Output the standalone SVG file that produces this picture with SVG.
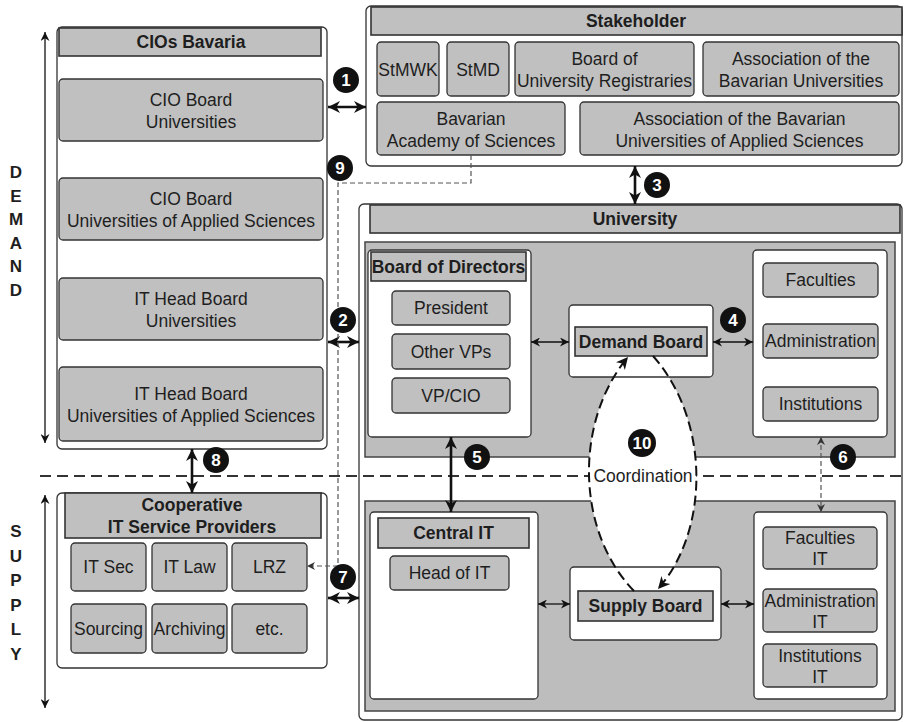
<svg xmlns="http://www.w3.org/2000/svg" width="905" height="722" viewBox="0 0 905 722">
<style>
text{font-family:"Liberation Sans",Arial,sans-serif;font-size:17.5px;fill:#1e1e1e;text-anchor:middle}
.b{font-weight:bold}
.outer{fill:#fff;stroke:#333;stroke-width:1.3}
.box{fill:#c0c0c0;stroke:#333;stroke-width:1.3}
.hdr{fill:#c0c0c0;stroke:#333;stroke-width:1.6}
.area{fill:#bdbdbd;stroke:#444;stroke-width:1.5}
.wbox{fill:#fff;stroke:#333;stroke-width:1.3}
.num circle{fill:#111}
.num text{fill:#fff;font-weight:bold;font-size:17px}
.side{font-weight:bold;font-size:17px}
.thin{stroke:#111;stroke-width:1.3;fill:none}
.bold{stroke:#111;stroke-width:2.6;fill:none}
.dash{stroke:#555;stroke-width:1.2;fill:none;stroke-dasharray:5 3}
.curve{stroke:#111;stroke-width:2;fill:none;stroke-dasharray:10 5}
</style>
<defs>
<marker id="at" viewBox="0 0 10 10" refX="10" refY="5" markerWidth="10" markerHeight="9" markerUnits="userSpaceOnUse" orient="auto-start-reverse"><path d="M0,0 L10,5 L0,10 L3,5 z" fill="#111"/></marker>
<marker id="ab" viewBox="0 0 10 10" refX="10" refY="5" markerWidth="13" markerHeight="12" markerUnits="userSpaceOnUse" orient="auto-start-reverse"><path d="M0,0 L10,5 L0,10 L3,5 z" fill="#111"/></marker>
<marker id="ad" viewBox="0 0 10 10" refX="10" refY="5" markerWidth="9" markerHeight="8" markerUnits="userSpaceOnUse" orient="auto-start-reverse"><path d="M0,0 L10,5 L0,10 L3,5 z" fill="#333"/></marker>
<marker id="ac" viewBox="0 0 10 10" refX="10" refY="5" markerWidth="13" markerHeight="12" markerUnits="userSpaceOnUse" orient="auto"><path d="M0,0 L10,5 L0,10 L3,5 z" fill="#111"/></marker>
</defs>

<g id="side-labels">
<line class="thin" x1="45" y1="32" x2="45" y2="443" marker-start="url(#at)" marker-end="url(#at)"/>
<line class="thin" x1="45" y1="495" x2="45" y2="708" marker-start="url(#at)" marker-end="url(#at)"/>
<text class="side" x="16" y="178">D</text>
<text class="side" x="16" y="201.5">E</text>
<text class="side" x="16" y="225">M</text>
<text class="side" x="16" y="249">A</text>
<text class="side" x="16" y="272">N</text>
<text class="side" x="16" y="296">D</text>
<text class="side" x="16" y="537">S</text>
<text class="side" x="16" y="561.5">U</text>
<text class="side" x="16" y="586">P</text>
<text class="side" x="16" y="610.5">P</text>
<text class="side" x="16" y="635">L</text>
<text class="side" x="16" y="660">Y</text>
</g>

<g id="cios-bavaria">
<rect class="outer" x="57" y="27" width="270" height="422" rx="5"/>
<rect class="hdr" x="59" y="28" width="262" height="28"/>
<text class="b" x="191" y="48">CIOs Bavaria</text>
<rect class="box" x="59" y="79" width="264" height="62" rx="4"/>
<text x="191" y="105.5">CIO Board</text><text x="191" y="127.5">Universities</text>
<rect class="box" x="59" y="178" width="264" height="62" rx="4"/>
<text x="191" y="204.5">CIO Board</text><text x="191" y="226.5">Universities of Applied Sciences</text>
<rect class="box" x="59" y="278" width="264" height="62" rx="4"/>
<text x="191" y="304.5">IT Head Board</text><text x="191" y="326.5">Universities</text>
<rect class="box" x="59" y="367" width="264" height="74" rx="4"/>
<text x="191" y="399.5">IT Head Board</text><text x="191" y="421.5">Universities of Applied Sciences</text>
</g>

<g id="coop-it">
<rect class="outer" x="57" y="493" width="270" height="175" rx="5"/>
<rect class="hdr" x="65" y="493" width="256" height="45"/>
<text class="b" x="192" y="511">Cooperative</text>
<text class="b" x="192" y="533">IT Service Providers</text>
<rect class="box" x="71" y="543" width="75" height="48" rx="4"/><text x="108.5" y="573">IT Sec</text>
<rect class="box" x="152" y="543" width="75" height="48" rx="4"/><text x="189.5" y="573">IT Law</text>
<rect class="box" x="232" y="543" width="75" height="48" rx="4"/><text x="269.5" y="573">LRZ</text>
<rect class="box" x="71" y="604" width="75" height="49" rx="4"/><text x="108.5" y="634.5">Sourcing</text>
<rect class="box" x="152" y="604" width="75" height="49" rx="4"/><text x="189.5" y="634.5">Archiving</text>
<rect class="box" x="232" y="604" width="75" height="49" rx="4"/><text x="269.5" y="634.5">etc.</text>
</g>

<g id="stakeholder">
<rect class="outer" x="366" y="6" width="536" height="160" rx="5"/>
<rect class="hdr" x="371" y="7" width="531" height="28"/>
<text class="b" x="636" y="27">Stakeholder</text>
<rect class="box" x="377" y="42" width="62" height="54" rx="4"/><text x="408" y="75.5">StMWK</text>
<rect class="box" x="447" y="42" width="62" height="54" rx="4"/><text x="478" y="75.5">StMD</text>
<rect class="box" x="515" y="42" width="179" height="54" rx="4"/>
<text x="604.5" y="64.5">Board of</text><text x="604.5" y="86.5">University Registraries</text>
<rect class="box" x="703" y="42" width="196" height="54" rx="4"/>
<text x="801" y="64.5">Association of the</text><text x="801" y="86.5">Bavarian Universities</text>
<rect class="box" x="377" y="102" width="188" height="53" rx="4"/>
<text x="471" y="124.5">Bavarian</text><text x="471" y="146.5">Academy of Sciences</text>
<rect class="box" x="580" y="102" width="319" height="53" rx="4"/>
<text x="739.5" y="124.5">Association of the Bavarian</text><text x="739.5" y="146.5">Universities of Applied Sciences</text>
</g>

<g id="university">
<rect class="outer" x="359" y="204" width="543" height="516" rx="5"/>
<rect class="hdr" x="370" y="205" width="530" height="28"/>
<text class="b" x="635" y="225">University</text>
<rect class="area" x="365" y="242" width="530" height="215"/>
<rect class="area" x="365" y="501" width="530" height="210"/>
</g>

<line id="separator" x1="40" y1="476" x2="902" y2="476" stroke="#333" stroke-width="2" stroke-dasharray="11 6"/>

<path id="coordination-area" d="M628,357 L653,356 C710,420 710,530 658,589 L634,591 C575,530 575,420 628,357 Z" fill="#fff"/>

<g id="board-of-directors">
<rect class="wbox" x="368" y="250" width="163" height="187" rx="4"/>
<rect class="hdr" x="371" y="252" width="155" height="29"/>
<text class="b" x="448.5" y="272.5">Board of Directors</text>
<rect class="box" x="392" y="291" width="118" height="34" rx="4"/><text x="451" y="314">President</text>
<rect class="box" x="392" y="334" width="118" height="35" rx="4"/><text x="451" y="357.5">Other VPs</text>
<rect class="box" x="392" y="378" width="118" height="35" rx="4"/><text x="451" y="401.5">VP/CIO</text>
</g>

<g id="demand-board">
<rect class="wbox" x="569" y="305" width="144" height="72" rx="4"/>
<rect class="hdr" x="575" y="327" width="132" height="29"/>
<text class="b" x="641" y="347.5">Demand Board</text>
</g>

<g id="demand-units">
<rect class="wbox" x="753" y="250" width="134" height="187" rx="4"/>
<rect class="box" x="763" y="263" width="115" height="34" rx="4"/><text x="820.5" y="286">Faculties</text>
<rect class="box" x="763" y="324" width="115" height="34" rx="4"/><text x="820.5" y="347">Administration</text>
<rect class="box" x="763" y="387" width="115" height="34" rx="4"/><text x="820.5" y="410">Institutions</text>
</g>

<g id="central-it">
<rect class="wbox" x="370" y="512" width="168" height="187" rx="4"/>
<rect class="hdr" x="378" y="518" width="151" height="30"/>
<text class="b" x="453.5" y="539">Central IT</text>
<rect class="box" x="390" y="556" width="119" height="34" rx="4"/><text x="449.5" y="579">Head of IT</text>
</g>

<g id="supply-board">
<rect class="wbox" x="570" y="567" width="151" height="73" rx="4"/>
<rect class="hdr" x="578" y="591" width="135" height="30"/>
<text class="b" x="645.5" y="612">Supply Board</text>
</g>

<g id="supply-units">
<rect class="wbox" x="754" y="512" width="133" height="187" rx="4"/>
<rect class="box" x="763" y="527" width="114" height="42" rx="4"/>
<text x="820" y="544">Faculties</text><text x="820" y="565">IT</text>
<rect class="box" x="763" y="589" width="114" height="43" rx="4"/>
<text x="820" y="607">Administration</text><text x="820" y="628">IT</text>
<rect class="box" x="763" y="644" width="114" height="43" rx="4"/>
<text x="820" y="662">Institutions</text><text x="820" y="683">IT</text>
</g>

<g id="connectors">
<line class="bold" x1="328" y1="107" x2="366" y2="107" marker-start="url(#ab)" marker-end="url(#ab)"/>
<line class="bold" x1="328" y1="342" x2="359" y2="342" marker-start="url(#ab)" marker-end="url(#ab)" stroke-width="2"/>
<line class="bold" x1="635" y1="166" x2="635" y2="204" marker-start="url(#ab)" marker-end="url(#ab)"/>
<line class="thin" x1="531" y1="342" x2="569" y2="342" marker-start="url(#at)" marker-end="url(#at)"/>
<line class="thin" x1="713" y1="342" x2="753" y2="342" marker-start="url(#at)" marker-end="url(#at)"/>
<line class="bold" x1="451" y1="437" x2="451" y2="512" marker-start="url(#ab)" marker-end="url(#ab)"/>
<line class="dash" x1="821" y1="437" x2="821" y2="512" marker-start="url(#ad)" marker-end="url(#ad)"/>
<line class="bold" x1="328" y1="598" x2="359" y2="598" marker-start="url(#ab)" marker-end="url(#ab)"/>
<line class="bold" x1="192" y1="449" x2="192" y2="493" marker-start="url(#ab)" marker-end="url(#ab)"/>
<line class="thin" x1="538" y1="604" x2="570" y2="604" marker-start="url(#at)" marker-end="url(#at)"/>
<line class="thin" x1="721" y1="604" x2="754" y2="604" marker-start="url(#at)" marker-end="url(#at)"/>
<path class="dash" d="M471,155 L471,183 L338,183 L338,566 L307,566" marker-end="url(#ad)"/>
<path class="curve" d="M634,591 C575,530 575,420 628,357" marker-end="url(#ac)"/>
<path class="curve" d="M653,356 C710,420 710,530 658,589" marker-end="url(#ac)"/>
</g>

<g id="badges">
<g class="num"><circle cx="346" cy="80" r="13"/><text x="346" y="86">1</text></g>
<g class="num"><circle cx="343" cy="320" r="13"/><text x="343" y="326">2</text></g>
<g class="num"><circle cx="657" cy="185" r="13"/><text x="657" y="191">3</text></g>
<g class="num"><circle cx="733" cy="320" r="13"/><text x="733" y="326">4</text></g>
<g class="num"><circle cx="477" cy="457" r="13"/><text x="477" y="463">5</text></g>
<g class="num"><circle cx="843" cy="457" r="13"/><text x="843" y="463">6</text></g>
<g class="num"><circle cx="343" cy="577" r="13"/><text x="343" y="583">7</text></g>
<g class="num"><circle cx="216" cy="460" r="13"/><text x="216" y="466">8</text></g>
<g class="num"><circle cx="340" cy="168" r="13"/><text x="340" y="174">9</text></g>
<g class="num"><circle cx="642" cy="443" r="14"/><text x="642" y="449">10</text></g>
<text x="643" y="482">Coordination</text>
</g>
</svg>
